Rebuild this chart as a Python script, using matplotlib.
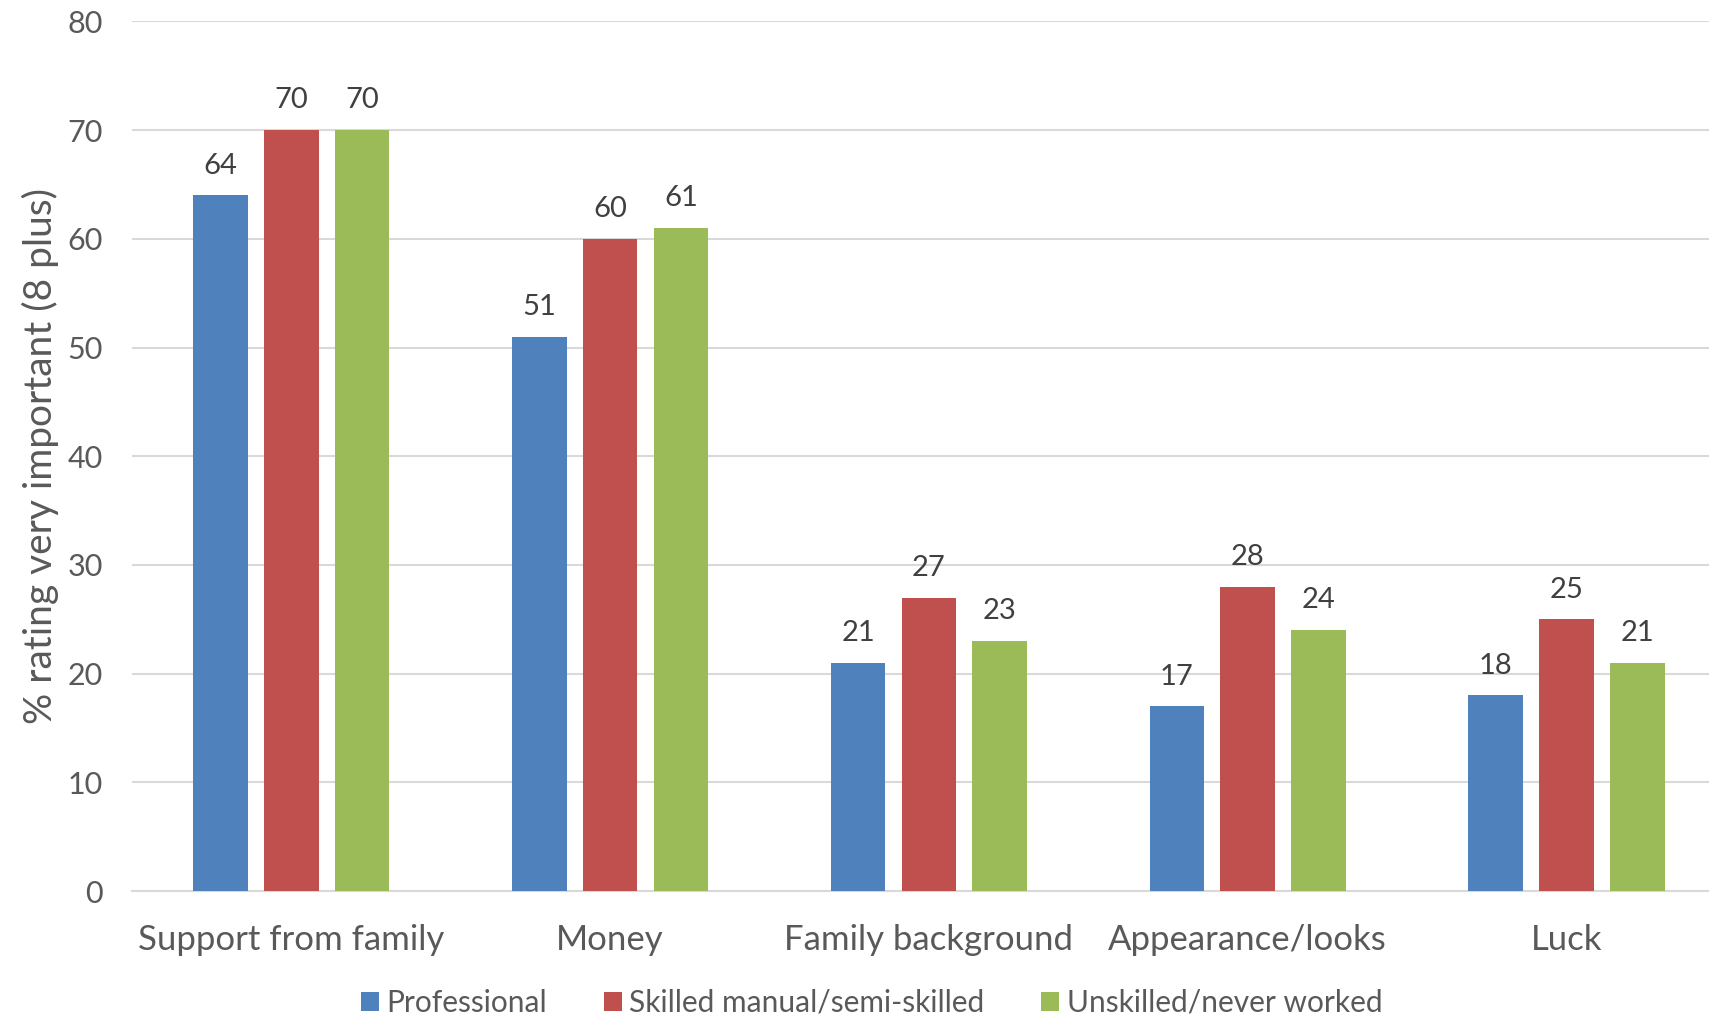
import matplotlib
matplotlib.use("Agg")
import matplotlib.pyplot as plt
import numpy as np

plt.rcParams['font.family'] = ['Lato', 'DejaVu Sans']

categories = ["Support from family", "Money", "Family background", "Appearance/looks", "Luck"]
series_names = ["Professional", "Skilled manual/semi-skilled", "Unskilled/never worked"]
professional = [64, 51, 21, 17, 18]
skilled = [70, 60, 27, 28, 25]
unskilled = [70, 61, 23, 24, 21]
colors = ["#4F81BD", "#C0504D", "#9BBB59"]

text_grey = "#595959"
fig = plt.figure(figsize=(17.09, 10.19), dpi=100)
# plot area runs slightly past the right edge of the figure
ax = fig.add_axes([0.0772, 0.1256, 0.9327, 0.8534])

x = np.arange(len(categories))
width = 0.171
step = 0.222
for i, (vals, name, col) in enumerate(zip([professional, skilled, unskilled], series_names, colors)):
    bars = ax.bar(x + (i - 1) * step, vals, width, color=col, label=name, zorder=3)
    ax.bar_label(bars, labels=[str(v) for v in vals], padding=12, fontsize=21, color="#404040")

ax.set_xlim(-0.5, len(categories) - 0.5)
ax.set_ylim(0, 80)
ax.set_yticks(range(0, 81, 10))
ax.yaxis.grid(True, color="#D9D9D9", linewidth=1.5, zorder=0)
ax.set_axisbelow(True)
for side in ["top", "right", "left"]:
    ax.spines[side].set_visible(False)
ax.spines["bottom"].set_color("#D9D9D9")
ax.spines["bottom"].set_linewidth(1.5)
ax.tick_params(axis="y", length=0, pad=21, labelsize=22, labelcolor=text_grey)
ax.tick_params(axis="x", length=0, pad=24, labelsize=25, labelcolor=text_grey)
ax.set_xticks(x)
ax.set_xticklabels(categories)
ax.set_ylabel("% rating very important (8 plus)", fontsize=28, color=text_grey)
ax.yaxis.set_label_coords(-0.046, 0.5)

fig.legend(loc="center", bbox_to_anchor=(0.51, 0.016), ncol=3, frameon=False,
           fontsize=21.5, labelcolor=text_grey, handlelength=0.6, handleheight=0.6,
           handletextpad=0.25, columnspacing=1.9)

fig.savefig("out.png", dpi=100)
